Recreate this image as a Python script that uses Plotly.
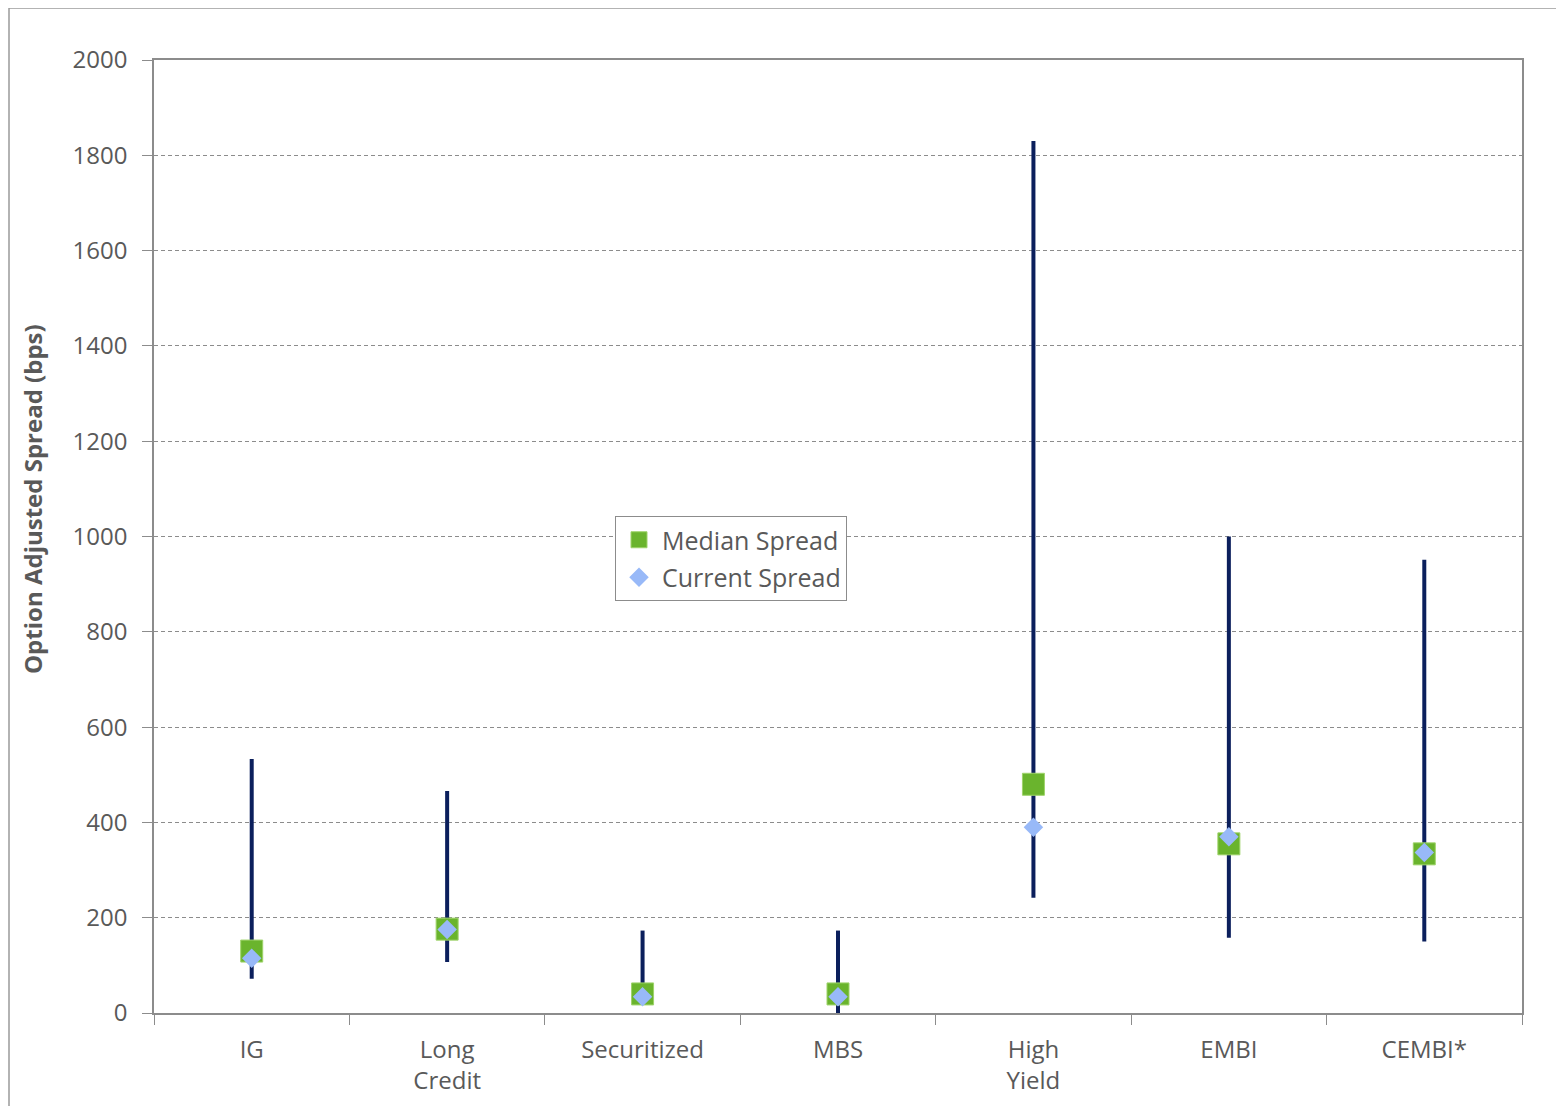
import plotly.graph_objects as go

categories = ["IG", "Long<br>Credit", "Securitized", "MBS", "High<br>Yield", "EMBI", "CEMBI*"]
range_high = [533, 466, 173, 173, 1830, 1000, 951]
range_low = [72, 107, 30, -4, 242, 158, 150]
median_spread = [130, 176, 40, 40, 480, 355, 334]
current_spread = [115, 175, 34, 34, 390, 370, 337]
y_ticks = [0, 200, 400, 600, 800, 1000, 1200, 1400, 1600, 1800, 2000]
y_title = "Option Adjusted Spread (bps)"

FONT = "Open Sans"
TXT = "#595959"
AX = "#8c8c8c"

# page has an 8px body margin; compensate
W, H = 1556, 1098
ML, MR, MT, MB = 146, 42, 52, 93
PW = W - ML - MR
PH = H - MT - MB

# range lines built from the data arrays
lx, ly = [], []
for c, lo, hi in zip(categories, range_low, range_high):
    lx += [c, c, None]
    ly += [lo, hi, None]

fig = go.Figure()
fig.add_trace(go.Scatter(x=lx, y=ly, mode="lines", line=dict(color="#0b1f5c", width=4),
                         showlegend=False, hoverinfo="skip"))
fig.add_trace(go.Scatter(x=categories, y=median_spread, mode="markers", name="Median Spread",
                         legendgroup="a",
                         marker=dict(symbol="square", size=22, color="#6ab42d",
                                     line=dict(color="#9ed36a", width=1))))
fig.add_trace(go.Scatter(x=categories, y=current_spread, mode="markers", name="Current Spread",
                         legendgroup="b",
                         marker=dict(symbol="diamond", size=15, color="#98b9f8",
                                     line=dict(width=0))))

fig.update_layout(
    width=W, height=H,
    paper_bgcolor="white", plot_bgcolor="white",
    margin=dict(l=ML, r=MR, t=MT, b=MB, autoexpand=False),
    font=dict(family=FONT, color=TXT, size=24),
    showlegend=True,
    legend=dict(x=(607 - ML) / PW, y=(1005 - 508) / PH, xanchor="left", yanchor="top",
                bordercolor="#8c8c8c", borderwidth=1, bgcolor="white",
                font=dict(size=25, color=TXT, family=FONT),
                traceorder="grouped", tracegroupgap=2,
                itemsizing="trace", itemwidth=36),
    xaxis=dict(type="category", range=[-0.5, 6.5], showline=True, linecolor=AX, linewidth=1.5,
               mirror=True, ticks="outside", tickson="boundaries", ticklen=10, tickcolor=AX,
               showgrid=False, tickfont=dict(size=24, color=TXT, family=FONT), zeroline=False,
               ticklabelstandoff=14, automargin=False),
    yaxis=dict(range=[0, 2000], tickvals=y_ticks, showline=True, linecolor=AX, linewidth=1.5,
               mirror=True, ticks="outside", ticklen=10, tickcolor=AX,
               showgrid=True, gridcolor="#8c8c8c", griddash="4px,3px", gridwidth=1,
               zeroline=False, tickfont=dict(size=24, color=TXT, family=FONT),
               ticklabelstandoff=10, automargin=False),
)

fig.add_annotation(text="<b>" + y_title + "</b>", textangle=-90, xref="paper", yref="paper",
                   x=(33 - 8 - ML) / PW, y=(1005 - 491) / PH, xanchor="center", yanchor="middle",
                   showarrow=False, font=dict(size=24, color=TXT, family=FONT))

# outer chart frame
fig.add_shape(type="rect", xref="paper", yref="paper",
              x0=(1 - ML) / PW, x1=(1600 - ML) / PW,
              y0=-0.3, y1=(H - MB) / PH,
              line=dict(color="#9a9a9a", width=1.5), layer="below")

fig.write_html("out.html")
